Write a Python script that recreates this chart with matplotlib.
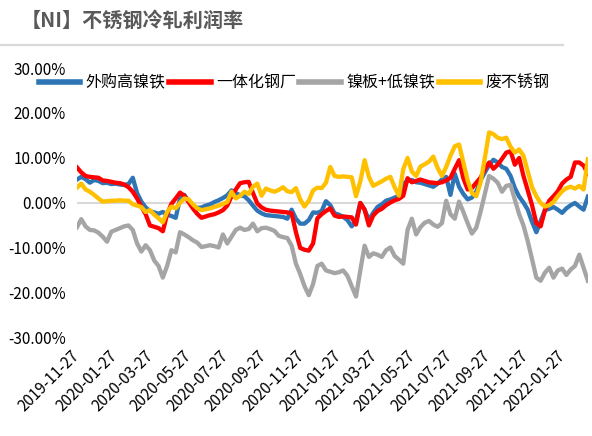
import matplotlib
matplotlib.use("Agg")
import matplotlib.pyplot as plt
import matplotlib.dates as mdates
import pandas as pd

plt.rcParams['font.family'] = ['Noto Sans CJK SC', 'DejaVu Sans']

# weekly readings of the chart, % (start 2019-11-27)
waigou = [5.2, 5.8, 5.3, 4.5, 5.1, 4.9, 4.4, 4.5, 4.2, 4.3,
          4.1, 4.0, 4.2, 5.6, 2.2, 0.3, -1.0, -1.8, -2.1, -2.4,
          -2.0, -2.6, -2.9, -3.3, 1.0, 1.8, 0.4, -0.6, -1.1, -1.0,
          -0.6, -0.3, 0.2, 0.6, 1.1, 1.7, 2.8, 2.2, 1.7, 1.5,
          0.6, -0.6, -1.7, -2.3, -2.7, -2.8, -2.9, -3.0, -3.1, -3.5,
          -1.5, -3.5, -4.6, -4.6, -3.8, -2.1, -2.2, -1.8, 0.4, -0.5,
          -2.3, -2.6, -3.1, -3.8, -5.2, -4.0, 0.0, -1.5, -3.8, -2.2,
          -0.9, -0.3, 0.5, 0.8, 1.2, 1.6, 4.3, 4.9, 5.1, 4.6,
          4.5, 4.2, 3.9, 3.6, 4.3, 5.2, 5.8, 1.8, 6.5, 3.6,
          2.0, 0.8, 1.2, 2.5, 5.0, 6.8, 8.4, 9.6, 9.0, 8.0,
          7.6, 6.0, 3.3, 1.4, 0.1, -1.5, -4.2, -6.5, -4.0, -1.6,
          -1.3, -0.9, -1.5, -2.2, -1.2, -0.5, 0.0, -0.8, -1.5, 1.4]
yiti = [7.9, 6.8, 6.0, 5.8, 5.7, 5.6, 5.0, 4.9, 4.7, 4.5,
        4.4, 4.1, 3.5, 2.5, 1.0, -0.8, -2.5, -5.0, -5.3, -5.6,
        -6.3, -2.5, -0.2, 1.0, 2.3, 1.6, 0.2, -1.2, -2.4, -3.3,
        -3.0, -2.7, -2.5, -2.1, -1.6, -0.6, 1.5, 3.0, 4.4, 4.6,
        4.7, 2.2, -0.1, -1.0, -1.5, -1.7, -1.8, -1.9, -2.0, -2.1,
        -2.3, -6.5, -10.0, -10.4, -10.6, -9.0, -3.4, -2.5, -1.8, -1.2,
        -2.8, -3.1, -3.0, -3.1, -3.2, -4.8, 0.0, -1.5, -5.0, -2.8,
        -1.8, -1.3, -0.5, 0.1, 0.6, 0.9, 1.6, 5.5, 4.6, 4.9,
        5.2, 4.9, 4.6, 4.5, 4.4, 4.6, 5.0, 5.6, 7.6, 9.5,
        5.5, 3.0, 3.3, 4.5, 5.6, 7.5, 9.0, 7.6, 8.5, 9.8,
        11.2, 11.5, 8.5, 10.0, 6.0, 2.8, -0.5, -4.5, -5.2, -1.6,
        0.5, 1.5, 2.6, 4.3, 5.2, 5.8, 9.0, 9.0, 8.3, 6.5]
nieban = [-5.4, -3.6, -5.2, -6.0, -6.1, -6.6, -7.5, -8.6, -6.4, -6.0,
          -5.6, -5.2, -5.0, -6.0, -9.0, -10.8, -9.4, -10.5, -12.8, -14.0,
          -16.6, -14.0, -10.5, -11.0, -6.5, -7.0, -7.6, -8.3, -8.8, -9.8,
          -9.6, -9.4, -9.6, -9.9, -7.0, -9.0, -7.5, -6.0, -5.5, -6.0,
          -5.8, -4.6, -6.3, -5.6, -5.5, -5.8, -6.2, -7.3, -7.6, -7.8,
          -9.5, -13.5, -15.8, -18.5, -20.5, -18.0, -14.0, -13.5, -15.0, -15.3,
          -15.6, -15.4, -15.0, -16.2, -18.5, -20.8, -15.0, -9.5, -12.0, -11.2,
          -11.5, -12.0, -10.5, -9.9, -11.8, -12.6, -13.5, -6.0, -3.5, -7.0,
          -5.4, -4.4, -4.0, -4.8, -5.3, -4.5, 0.5, -2.5, -3.5, 0.3,
          -2.0, -4.5, -6.8, -5.5, -2.0, 2.0, 6.0, 5.4, 4.5, 2.5,
          3.8, 4.0, 0.7, -2.5, -5.0, -8.5, -12.5, -16.6, -17.3, -15.5,
          -14.4, -16.6, -15.0, -14.6, -16.0, -14.8, -14.0, -11.5, -14.4, -17.3]
fei = [3.4, 4.3, 3.0, 2.5, 1.8, 1.0, 0.3, 0.4, 0.5, 0.5,
       0.6, 0.5, 0.5, -0.3, -0.6, -0.9, -2.0, -1.6, -2.6, -3.4,
       -4.3, -2.0, -0.8, -1.2, 0.0, 1.0, 0.8, -0.3, -1.2, -1.6,
       -1.4, -1.2, -0.9, -0.6, -0.2, 0.2, 2.5, 1.0, 1.6, 2.5,
       2.0, 3.6, 4.3, 1.6, 3.2, 2.8, 2.5, 2.9, 3.5, 2.6,
       2.4, 3.3, 0.8, -0.8, 0.5, 2.8, 3.4, 3.3, 4.5, 8.0,
       6.0, 5.8, 5.9, 5.8, 5.7, 1.5, 4.8, 9.5, 5.8, 3.8,
       4.3, 4.8, 5.4, 5.8, 3.5, 1.6, 7.5, 10.0, 7.0, 6.0,
       8.1, 8.6, 9.2, 10.3, 7.8, 6.0, 8.0, 10.5, 12.6, 13.0,
       9.0, 5.0, 2.2, 1.5, 4.5, 10.0, 15.7, 15.3, 14.5, 14.2,
       14.5, 12.5, 11.2, 11.9, 10.5, 7.0, 3.5, 1.5, 0.0, -0.8,
       -0.5, 0.2, 1.5, 2.6, 3.3, 3.6, 3.2, 3.8, 3.0, 9.7]

names = ['外购高镍铁', '一体化钢厂', '镍板+低镍铁', '废不锈钢']
colors = ['#2E75B6', '#FF0000', '#A5A5A5', '#FFC000']
tick_dates = ['2019-11-27', '2020-01-27', '2020-03-27', '2020-05-27', '2020-07-27',
              '2020-09-27', '2020-11-27', '2021-01-27', '2021-03-27', '2021-05-27',
              '2021-07-27', '2021-09-27', '2021-11-27', '2022-01-27']

dates = pd.date_range('2019-11-27', periods=len(waigou), freq='7D')

fig = plt.figure(figsize=(5.92, 4.36), dpi=100)
ax = fig.add_axes([0.130, 0.225, 0.863, 0.619])

ax.axhline(0, color='#D9D9D9', lw=1.5, zorder=1)
for vals, name, c in zip([waigou, yiti, nieban, fei], names, colors):
    ax.plot(dates, vals, color=c, lw=3.1, label=name, zorder=2,
            solid_joinstyle='round')

ax.set_ylim(-30, 30)
ax.set_yticks(range(-30, 31, 10))
ax.set_yticklabels(['%.2f%%' % v for v in range(-30, 31, 10)])
ax.set_xlim(dates[0], dates[-1])
ax.set_xticks(pd.to_datetime(tick_dates))
ax.xaxis.set_major_formatter(mdates.DateFormatter('%Y-%m-%d'))
for s in ax.spines.values():
    s.set_visible(False)
ax.tick_params(axis='both', length=0, labelsize=11, colors='black')
ax.tick_params(axis='y', pad=8)
ax.tick_params(axis='x', pad=11)
for lab in ax.get_xticklabels():
    lab.set_rotation(45)
    lab.set_ha('right')
    lab.set_va('center')
    lab.set_rotation_mode('anchor')

fig.legend(loc='center', bbox_to_anchor=(0.497, 0.81), ncol=4, frameon=False,
           fontsize=11.5, handlelength=2.6, handletextpad=0.35,
           columnspacing=0.2, borderaxespad=0)
for line in fig.legends[0].get_lines():
    line.set_linewidth(4)

fig.text(0.035, 0.953, '【NI】不锈钢冷轧利润率', fontsize=14.5, fontweight='bold',
         color='#595959', va='center', ha='left')
fig.add_artist(plt.Line2D([0, 0.951], [0.897, 0.897], color='#D9D9D9', lw=1.6))

fig.savefig('out.png', dpi=100)
